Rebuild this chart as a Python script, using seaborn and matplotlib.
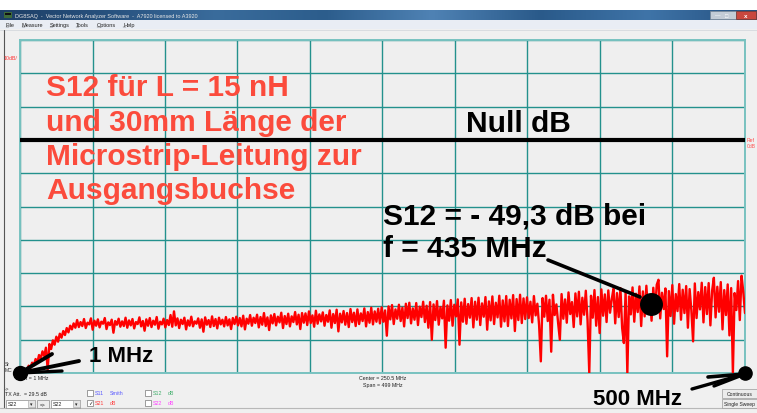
import numpy as np
import pandas as pd
import matplotlib
matplotlib.use("Agg")
import matplotlib.pyplot as plt
import seaborn as sns
from matplotlib.patches import Rectangle
from matplotlib.colors import LinearSegmentedColormap

# ---------------------------------------------------------------------------
# Sweep settings of the analyzer
f_start = 1.0        # MHz
f_stop = 500.0       # MHz
db_top = 30          # dB at top of screen
db_bottom = -70      # dB at bottom of screen
db_per_div = 10
ref_level = 0        # "Null dB" reference line

# Measured transmission trace (dB), one value per sweep point
s21_db = [
    # 1 .. 39 MHz : steep rise out of the noise floor
    -70.5, -69.8, -70.2, -68.9, -69.5, -67.8, -68.6, -66.9, -67.7, -65.8,
    -66.9, -64.6, -65.7, -63.5, -64.9, -62.4, -69.0, -61.3, -62.8, -60.2,
    -61.5, -59.1, -60.6, -58.2, -59.4, -57.4, -58.6, -56.5, -57.8, -55.8,
    -56.9, -55.1, -56.4,
    # 40 .. 149 MHz
    -54.1, -56.2, -54.7, -55.9, -53.8, -56.5, -54.9, -55.4, -53.6, -57.0,
    -54.3, -55.8, -53.9, -56.3, -54.6, -55.2, -53.5, -56.8, -54.8, -55.6,
    -54.0, -57.9, -54.4, -55.5, -53.7, -56.1, -54.5, -55.9, -53.4, -56.4,
    -54.2, -55.7, -53.8, -56.6, -54.7, -55.3, -53.3, -56.0, -54.4, -57.3,
    -53.9, -55.8, -53.5, -56.2, -54.3, -55.5, -53.2, -56.7, -54.6, -55.4,
    -53.7, -56.3, -54.1, -55.6, -52.6, -56.1, -51.5, -55.7, -53.6, -56.5,
    -54.0, -55.3, -53.4, -56.9, -54.2, -55.8, -53.1, -56.0, -54.5, -55.2,
    -53.6, -56.4, -53.9, -57.6, -53.3, -55.5, -54.1, -56.2, -53.0, -55.9,
    -53.8, -56.6, -53.4, -55.4, -54.0, -56.0, -53.2, -55.7, -53.9, -56.8,
    -53.5, -55.3,
    # 150 .. 249 MHz
    -53.1, -55.7, -53.5, -56.0, -52.8, -56.9, -53.7, -55.2, -52.6, -55.8,
    -53.4, -55.0, -52.5, -56.3, -53.2, -55.5, -52.0, -55.9, -53.3, -57.1,
    -52.7, -55.1, -52.3, -55.7, -53.1, -54.8, -51.9, -56.5, -52.9, -55.3,
    -52.2, -56.0, -53.0, -54.7, -51.7, -55.4, -52.5, -56.8, -52.0, -54.9,
    -52.1, -55.6, -51.5, -55.0, -52.7, -56.1, -51.3, -55.2, -52.4, -54.5,
    -51.8, -55.8, -52.6, -54.6, -51.2, -56.4, -52.3, -55.0, -51.0, -57.5,
    -52.2, -54.8, -51.4, -55.5, -52.0, -56.2, -50.8, -54.7, -51.9, -55.9,
    -50.9, -55.3, -52.1, -54.4, -50.6, -56.0, -51.7, -54.9, -50.4, -55.4,
    -51.5, -54.6, -50.7, -55.1,
    # 250 .. 349 MHz
    -50.3, -54.6, -51.2, -58.8, -50.0, -53.9, -49.6, -55.3, -50.9, -53.7,
    -49.5, -54.4, -50.4, -56.0, -49.2, -53.5, -48.9, -55.1, -50.6, -54.0,
    -49.0, -55.6, -50.1, -53.2, -48.6, -54.7, -49.8, -56.4, -48.7, -60.0,
    -49.4, -54.1, -48.4, -55.5, -50.2, -53.6, -48.3, -62.4, -49.7, -54.3,
    -48.1, -55.8, -49.5, -53.0, -47.9, -61.5, -48.8, -54.6, -47.7, -55.2,
    -49.3, -53.4, -47.5, -56.3, -48.6, -54.0, -47.4, -55.6, -49.1, -53.1,
    -47.2, -57.0, -48.5, -54.2, -47.0, -55.3, -48.9, -53.3, -46.8, -56.1,
    -48.2, -54.5, -46.9, -55.9, -48.0, -53.6, -46.6, -57.4, -47.8, -54.1,
    -46.5, -55.0, -47.6, -53.8,
    # 350 .. 500 MHz
    -47.3, -53.5, -48.6, -54.8, -46.9, -52.7, -49.2, -55.6, -66.5, -47.5,
    -53.1, -46.8, -54.4, -48.0, -63.6, -46.5, -52.6, -49.4, -55.0, -60.0,
    -46.3, -53.7, -47.9, -54.9, -45.8, -52.3, -48.7, -56.2, -46.1, -53.0,
    -45.6, -55.4, -47.4, -52.5, -45.3, -54.2, -70.0, -46.8, -53.4, -45.1,
    -55.8, -47.2, -58.0, -44.9, -52.8, -46.4, -54.7, -45.2, -51.9, -47.8,
    -44.7, -55.1, -46.0, -53.2, -44.5, -56.5, -61.0, -45.6, -70.0, -47.0,
    -52.4, -44.3, -54.6, -46.2, -51.7, -44.0, -55.9, -45.5, -53.0, -43.8,
    -52.2, -46.6, -54.3, -44.4, -51.5, -43.5, -42.0, -53.6, -45.9, -50.8,
    -44.6, -65.0, -45.4, -52.9, -43.6, -55.2, -46.3, -51.4, -43.3, -54.0,
    -45.0, -52.0, -43.9, -56.4, -44.8, -51.2, -60.5, -43.1, -53.5, -45.7,
    -50.9, -42.9, -54.8, -44.2, -52.3, -43.0, -55.7, -45.3, -41.4, -53.3,
    -44.1, -51.6, -42.7, -56.9, -45.1, -52.6, -43.4, -58.7, -44.5, -70.0,
    -46.0, -51.1, -42.4, -54.1, -40.8, -45.6, -52.0,
]
freq_mhz = np.linspace(f_start, f_stop, len(s21_db))
trace = pd.DataFrame({"freq": freq_mhz, "db": s21_db})

# Marker 1 readout
marker_freq = 435.0
marker_db = -49.3
marker_readout = "-49.22dB"

# Annotation texts
red_note = ["S12 für L = 15 nH", "und 30mm Länge der",
            "Microstrip-Leitung zur", "Ausgangsbuchse"]
ref_note = "Null dB"
marker_note = ["S12 = - 49,3 dB bei", "f = 435 MHz"]
start_note = "1 MHz"
stop_note = "500 MHz"

# ---------------------------------------------------------------------------
sns.set_theme(style="white")
plt.rcParams["font.family"] = ["Liberation Sans", "DejaVu Sans"]

W, H = 757, 414
fig = plt.figure(figsize=(W / 100, H / 100), dpi=100)
fig.patch.set_facecolor("#f0f0f0")

# window chrome layer, pixel coordinates
ui = fig.add_axes([0, 0, 1, 1], zorder=0)
ui.set_xlim(0, W)
ui.set_ylim(H, 0)
ui.axis("off")

ui.add_patch(Rectangle((0, 0), W, 11, color="white", lw=0))
bar_cmap = LinearSegmentedColormap.from_list(
    "bar", ["#1d3f66", "#28527f", "#3a6c9c", "#2c5d8c", "#4f82b4",
            "#2a5a8a", "#3f74a8", "#24507f"])
ui.imshow(np.linspace(0, 1, 256)[None, :], cmap=bar_cmap, aspect="auto",
          extent=(0, W, 21, 11), zorder=1)
ui.add_patch(Rectangle((4, 13), 8, 6, color="#3d6b3a", lw=0, zorder=2))
ui.add_patch(Rectangle((5, 14), 6, 2, color="#111111", lw=0, zorder=2))
ui.text(15, 16.3, "DG8SAQ  -  Vector Network Analyzer Software  -  A7920 licensed to A3920",
        fontsize=4.0, color="#e6e6e6", va="center", ha="left", zorder=3)
ui.add_patch(Rectangle((710, 12), 26, 8, facecolor="#c3ccd6", edgecolor="#7a8896",
                       lw=0.5, zorder=2))
ui.add_patch(Rectangle((736, 12), 20, 8, facecolor="#c9473e", edgecolor="#7a3a34",
                       lw=0.5, zorder=2))
ui.text(718, 16, "—", fontsize=4, color="white", ha="center", va="center", zorder=3)
ui.text(727, 16, "□", fontsize=4, color="white", ha="center", va="center", zorder=3)
ui.text(746, 16, "x", fontsize=4.5, color="white", ha="center", va="center",
        fontweight="bold", zorder=3)

ui.add_patch(Rectangle((0, 21), W, 9, color="#e9edf4", lw=0, zorder=1))
ui.plot([0, W], [30.5, 30.5], color="#d5d9de", lw=0.6, zorder=2)
for label, x in [("File", 6), ("Measure", 22), ("Settings", 50), ("Tools", 76),
                 ("Options", 97), ("Help", 123)]:
    ui.text(x, 25.8, label, fontsize=4.0, color="#222222", va="center", zorder=3)
    ui.plot([x, x + 2.5], [28.2, 28.2], color="#222222", lw=0.3, zorder=3)

ui.plot([3.5, 3.5], [31, 409], color="#555555", lw=0.8, zorder=2)
ui.plot([0, W], [409.5, 409.5], color="#b8b8b8", lw=0.8, zorder=2)

# readouts around the screen
ui.text(25, 45.5, "1:  435MHz", fontsize=3.8, color="#222222", va="center", zorder=3)
ui.text(62, 45.5, marker_readout, fontsize=3.8, color="#ff3030", va="center", zorder=3)
ui.text(4, 58, "10dB/", fontsize=3.8, color="#ff3030", va="center", zorder=3)
ui.text(746.5, 140.5, "Ref", fontsize=3.6, color="#ff5050", va="center", zorder=3)
ui.text(746.5, 147, "0dB", fontsize=3.6, color="#ff5050", va="center", zorder=3)
ui.text(5, 365, "Sr", fontsize=3.6, color="#333333", va="center", zorder=3)
ui.text(5, 371, "MC", fontsize=3.6, color="#333333", va="center", zorder=3)
ui.text(16, 378.5, "Start = 1 MHz", fontsize=3.8, color="#222222", va="center", zorder=3)
ui.text(383, 378.5, "Center = 250.5 MHz", fontsize=3.8, color="#222222",
        va="center", ha="center", zorder=3)
ui.text(383, 385.5, "Span = 499 MHz", fontsize=3.8, color="#222222",
        va="center", ha="center", zorder=3)
ui.text(5, 389, "->", fontsize=3.6, color="#333333", va="center", zorder=3)
ui.text(5, 394.5, "TX Att.  = 29.5 dB", fontsize=3.8, color="#222222", va="center", zorder=3)

# port selectors
for x0 in (6, 51):
    ui.add_patch(Rectangle((x0, 401), 29, 8, facecolor="white", edgecolor="#8a8a8a",
                           lw=0.5, zorder=2))
    ui.add_patch(Rectangle((x0 + 22, 401.5), 6.5, 7, facecolor="#e4e4e4",
                           edgecolor="#a0a0a0", lw=0.4, zorder=3))
    ui.text(x0 + 25.2, 405, "▾", fontsize=3.5, color="#222222", ha="center",
            va="center", zorder=4)
    ui.text(x0 + 2, 405, "S22", fontsize=3.8, color="#222222", va="center", zorder=4)
ui.add_patch(Rectangle((37, 401), 12, 8, facecolor="#ececec", edgecolor="#8a8a8a",
                       lw=0.5, zorder=2))
ui.text(43, 405, "=>", fontsize=3.6, color="#222222", ha="center", va="center", zorder=3)

# trace checkboxes
boxes = [(87, 394, "S11", "Smith", "#5a5aff", False),
         (87, 404, "S21", "dB", "#ff3a3a", True),
         (145, 394, "S12", "dB", "#3fae6a", False),
         (145, 404, "S22", "dB", "#ff40ff", False)]
for x0, yc, name, mode, col, checked in boxes:
    ui.add_patch(Rectangle((x0, yc - 3), 6, 6, facecolor="white", edgecolor="#777777",
                           lw=0.5, zorder=2))
    if checked:
        ui.text(x0 + 3, yc, "✓", fontsize=4, color="#222222", ha="center",
                va="center", zorder=3, family="DejaVu Sans")
    ui.text(x0 + 8, yc, name, fontsize=3.8, color=col, va="center", zorder=3)
    ui.text(x0 + 23, yc, mode, fontsize=3.8, color=col, va="center", zorder=3)

# sweep buttons
for y0, label in [(390, "Continuous"), (400, "Single Sweep")]:
    ui.add_patch(Rectangle((722, y0), 35, 9, facecolor="#ececec", edgecolor="#9a9a9a",
                           lw=0.5, zorder=2))
    ui.text(739.5, y0 + 4.6, label, fontsize=3.6, color="#222222", ha="center",
            va="center", zorder=3)

# ---------------------------------------------------------------------------
# measurement screen
ax = fig.add_axes([20 / W, (H - 374) / H, 725 / W, 333 / H], zorder=1)
ax.set_facecolor("#efefef")
ax.set_xlim(f_start, f_stop)
ax.set_ylim(db_bottom, db_top)
ax.set_xticks(np.linspace(f_start, f_stop, 11))
ax.set_yticks(np.arange(db_bottom, db_top + 1, db_per_div))
ax.grid(True, color="#23918d", lw=1.0)
ax.tick_params(length=0, labelbottom=False, labelleft=False)
for sp in ax.spines.values():
    sp.set_color("#78c2c0")
    sp.set_linewidth(1.4)

ax.axhline(ref_level, color="black", lw=3.0, zorder=3)
sns.lineplot(data=trace, x="freq", y="db", color="#ff0000", lw=1.7, sort=False,
             estimator=None, ax=ax, zorder=4)
ax.set_xlabel("")
ax.set_ylabel("")

# callout dots at start, stop and marker
ax.plot([marker_freq], [marker_db], "o", color="black", ms=15.5, zorder=6, clip_on=False)
ax.plot([f_start], [db_bottom], "o", color="black", ms=10, zorder=6, clip_on=False)
ax.plot([f_stop], [db_bottom], "o", color="black", ms=9.5, zorder=6, clip_on=False)

# ---------------------------------------------------------------------------
# annotation layer, pixel coordinates
top = fig.add_axes([0, 0, 1, 1], zorder=3)
top.set_xlim(0, W)
top.set_ylim(H, 0)
top.axis("off")
top.patch.set_alpha(0)

for line, yb in zip(red_note, [96.5, 131, 165.5, 199.5]):
    top.text(46, yb, line, fontsize=21.5, fontweight="bold", color="#fb4b3c",
             va="baseline", ha="left")
top.text(466, 132.5, ref_note, fontsize=21.5, fontweight="bold", color="black",
         va="baseline")
for line, yb in zip(marker_note, [225, 257]):
    top.text(383, yb, line, fontsize=21.5, fontweight="bold", color="black",
             va="baseline")
top.text(89, 362, start_note, fontsize=16, fontweight="bold", color="black",
         va="baseline")
top.text(593, 405, stop_note, fontsize=16, fontweight="bold", color="black",
         va="baseline")

top.plot([548, 640], [261, 298], color="black", lw=2.6, solid_capstyle="round")
for ex, ey, w in [(52, 355, 2.8), (79, 362, 2.8), (62, 372, 2.4)]:
    top.plot([20, ex], [374, ey], color="black", lw=w, solid_capstyle="round")
for ex, ey, w in [(692, 390, 2.4), (708, 378, 2.6), (714, 387, 2.4)]:
    top.plot([745, ex], [375, ey], color="black", lw=w, solid_capstyle="round")

fig.savefig("out.png", dpi=100, facecolor=fig.get_facecolor())
